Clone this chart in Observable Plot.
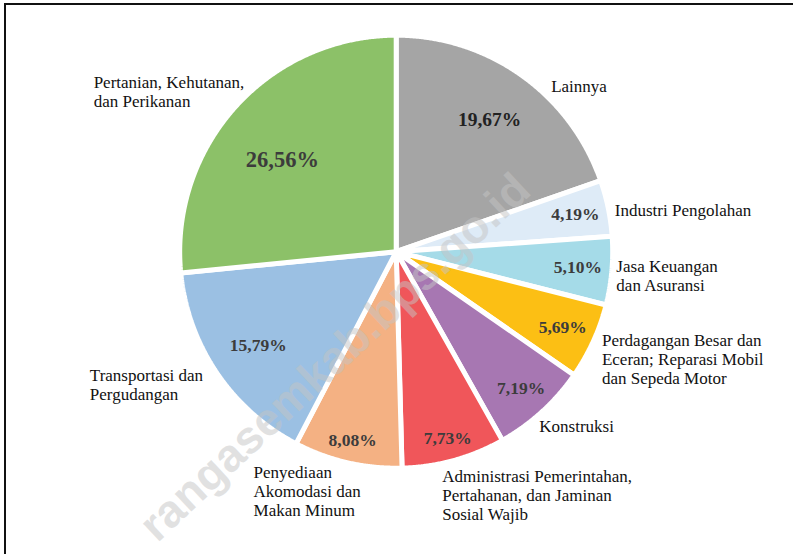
<!DOCTYPE html>
<html>
<head>
<meta charset="utf-8">
<script src="https://cdn.jsdelivr.net/npm/d3@7"></script>
<script src="https://cdn.jsdelivr.net/npm/@observablehq/plot@0.6"></script>
<style>
  html, body { margin: 0; padding: 0; background: #fff; }
  #wrap { position: relative; width: 793px; height: 554px; overflow: hidden; }
  #wrap svg { position: absolute; left: 0; top: 0; }
  #frame { position: absolute; left: 4px; top: 3px; right: -10px; bottom: -10px;
           border-top: 2px solid #111; border-left: 2px solid #111; pointer-events: none; }
</style>
</head>
<body>
<div id="wrap"><div id="frame"></div></div>
<script>
// ---- data (clockwise from 12 o'clock) ----
const categories = [
  "Lainnya",
  "Industri Pengolahan",
  "Jasa Keuangan dan Asuransi",
  "Perdagangan Besar dan Eceran; Reparasi Mobil dan Sepeda Motor",
  "Konstruksi",
  "Administrasi Pemerintahan, Pertahanan, dan Jaminan Sosial Wajib",
  "Penyediaan Akomodasi dan Makan Minum",
  "Transportasi dan Pergudangan",
  "Pertanian, Kehutanan, dan Perikanan"
];
const labelText = [
  "Lainnya",
  "Industri Pengolahan",
  "Jasa Keuangan\ndan Asuransi",
  "Perdagangan Besar dan\nEceran; Reparasi Mobil\ndan Sepeda Motor",
  "Konstruksi",
  "Administrasi Pemerintahan,\nPertahanan, dan Jaminan\nSosial Wajib",
  "Penyediaan\nAkomodasi dan\nMakan Minum",
  "Transportasi dan\nPergudangan",
  "Pertanian, Kehutanan,\ndan Perikanan"
];
const shares = [19.67, 4.19, 5.10, 5.69, 7.19, 7.73, 8.08, 15.79, 26.56];
const colors = ["#A5A5A5", "#DEEBF7", "#A5DBE8", "#FCBF14", "#A777B2", "#F0565A", "#F4B183", "#9BC0E3", "#8CC168"];

// ---- layout (not data) ----
const W = 793, H = 554;
const cx = 395.7, cy = 251.2, R = 216.5, gap = 5;
const rEdge = R - gap / 2;
const pctRadius = [0.754, 0.855, 0.852, 0.855, 0.867, 0.903, 0.906, 0.778, 0.683];
const pctSize   = [19.5, 17.5, 17.5, 17.5, 17.5, 17.5, 17.5, 17.5, 22.5];
const pctNudge  = [[0,0],[0,0],[0,0],[0,0],[0,0],[0,0],[0,0],[0,0],[-5.5,6.4]];
const labelNudge = [[31,9],[9,1],[7,5],[11,18],[-1,15.5],[-11,37],[-94.5,31],[-129,12.5],[-144,-17]];

// ---- derived geometry ----
const total = d3.sum(shares);
let acc = 0;
const slices = shares.map((v, i) => {
  const a0 = acc / total * 2 * Math.PI;
  acc += v;
  const a1 = acc / total * 2 * Math.PI;
  const mid = (a0 + a1) / 2;
  const pts = [{x: cx, y: cy}];
  const n = Math.max(2, Math.ceil((a1 - a0) / 0.005));
  for (let k = 0; k <= n; k++) {
    const t = a0 + (a1 - a0) * k / n;
    pts.push({x: cx + R * Math.sin(t), y: cy - R * Math.cos(t)});
  }
  const ex = cx + rEdge * Math.sin(mid), ey = cy - rEdge * Math.cos(mid);
  return {
    cat: categories[i], color: colors[i], value: v, pts,
    pct: v.toFixed(2).replace(".", ",") + "%",
    px: cx + pctRadius[i] * rEdge * Math.sin(mid) + pctNudge[i][0],
    py: cy - pctRadius[i] * rEdge * Math.cos(mid) + pctNudge[i][1],
    size: pctSize[i],
    lx: ex + labelNudge[i][0],
    ly: ey + labelNudge[i][1],
    label: labelText[i]
  };
});

const marks = [];
for (const s of slices) {
  marks.push(Plot.line(s.pts, {
    x: "x", y: "y", curve: "linear-closed",
    fill: s.color, stroke: "white", strokeWidth: gap, strokeLinejoin: "miter"
  }));
}
// watermark
marks.push(Plot.text(["rangasemkab.bps.go.id"], {
  frameAnchor: "middle", dx: -62, dy: 80, rotate: -43,
  fontFamily: "Liberation Sans, Arial, sans-serif", fontWeight: "bold", fontSize: 46,
  fill: "#c4c4c4", fillOpacity: 0.5
}));
// percentage labels
for (const s of slices) {
  marks.push(Plot.text([s], {
    x: "px", y: "py", text: "pct", textAnchor: "middle", lineAnchor: "middle",
    fontFamily: "Liberation Serif, serif", fontWeight: "bold", fontSize: s.size,
    fill: s.cat === "Lainnya" ? "#222222" : "#3c3c3c"
  }));
}
// category labels
marks.push(Plot.text(slices, {
  x: "lx", y: "ly", text: "label", textAnchor: "start", lineAnchor: "middle",
  lineHeight: 1.12, fontFamily: "Liberation Serif, serif", fontSize: 17, fill: "#111111"
}));

const chart = Plot.plot({
  width: W, height: H, margin: 0,
  x: {domain: [0, W], range: [0, W], axis: null},
  y: {domain: [0, H], range: [0, H], axis: null},
  style: {background: "transparent", overflow: "visible"},
  marks
});
document.getElementById("wrap").prepend(chart);
</script>
</body>
</html>
